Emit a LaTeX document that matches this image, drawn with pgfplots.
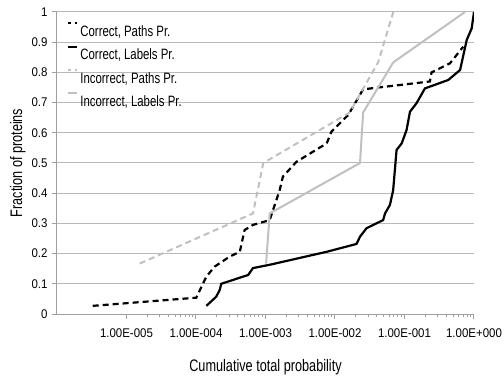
\documentclass[border=0pt]{standalone}
\usepackage{fontspec}
\setmainfont{Liberation Sans}[FakeStretch=0.91]
\newfontfamily\lfont{Liberation Sans}[FakeStretch=0.76]
\usepackage{pgfplots}
\pgfplotsset{compat=1.18}
\definecolor{lgray}{RGB}{192,192,192}
\definecolor{gridc}{RGB}{185,185,185}
\definecolor{axc}{RGB}{160,160,160}
\begin{document}
\begin{tikzpicture}
\path[use as bounding box] (-57bp,-63bp) rectangle (447bp,314bp);
\begin{axis}[
  scale only axis, width=417bp, height=302bp,
  xmode=log, xmin=1e-6, xmax=1, ymin=0, ymax=1,
  axis x line*=bottom, axis y line*=left,
  axis line style={axc, line width=1bp, -},
  xtick={1e-5,1e-4,1e-3,1e-2,1e-1,1},
  xticklabels={1.00E-005,1.00E-004,1.00E-003,1.00E-002,1.00E-001,1.00E+000},
  minor xtick={},
  ytick={0,0.1,...,1.01},
  yticklabels={0,0.1,0.2,0.3,0.4,0.5,0.6,0.7,0.8,0.9,1},
  ymajorgrids, major grid style={gridc, line width=1bp},
  tick style={axc, line width=1bp},
  major tick length=5bp, tick align=outside,
  xtick pos=bottom, ytick pos=left,
  tick label style={font=\fontsize{12.6bp}{15bp}\selectfont},
  xticklabel style={yshift=-6bp},
  yticklabel style={xshift=-1bp},
  xlabel={Cumulative total probability},
  ylabel={Fraction of proteins},
  label style={font=\lfont\fontsize{16.7bp}{19bp}\selectfont},
  xlabel style={yshift=-15bp},
  ylabel style={yshift=-1bp},
  legend cell align=left,
  legend style={draw=none, fill=none, at={(0.024,0.967)}, anchor=north west,
    font=\lfont\fontsize{15bp}{17bp}\selectfont, row sep=5.6bp, inner sep=0pt,
    /tikz/every even column/.append style={column sep=0pt}},
  legend image code/.code={\draw[#1, dash phase=3bp] (0bp,8.5bp) -- (9bp,8.5bp);},
]
\addplot[black, line width=2.2bp, dash pattern=on 6bp off 4bp] coordinates {
(3.27e-6,0.027) (1.01e-4,0.054) (1.41e-4,0.124) (1.86e-4,0.157) (3.05e-4,0.19)
(4.27e-4,0.206) (5.0e-4,0.278) (6.6e-4,0.295) (1.15e-3,0.311) (1.6e-3,0.41)
(1.78e-3,0.455) (2.79e-3,0.504) (7.6e-3,0.565) (8.9e-3,0.604) (1.55e-2,0.659)
(2.54e-2,0.744) (0.232,0.77) (0.245,0.80) (0.451,0.83) (0.70,0.885)
};
\addlegendentry{Correct, Paths Pr.}
\addplot[black, line width=2.2bp] coordinates {
(1.41e-4,0.027) (1.95e-4,0.057) (2.19e-4,0.079) (2.31e-4,0.10) (4.79e-4,0.124)
(5.62e-4,0.129) (6.6e-4,0.152) (1.15e-3,0.163) (7.6e-3,0.206) (2.04e-2,0.232)
(2.29e-2,0.256) (2.84e-2,0.284) (4.93e-2,0.311) (5.25e-2,0.333) (6.17e-2,0.361)
(6.87e-2,0.41) (7.69e-2,0.543) (9.12e-2,0.565) (0.107,0.609) (0.120,0.67)
(0.149,0.698) (0.197,0.747) (0.427,0.775) (0.631,0.808) (0.785,0.907)
(0.927,0.946) (1.0,1.0)
};
\addlegendentry{Correct, Labels Pr.}
\addplot[lgray, line width=2bp, dash pattern=on 6bp off 4bp] coordinates {
(1.55e-5,0.167) (6.6e-4,0.333) (9.3e-4,0.5) (1.62e-2,0.667) (4.17e-2,0.833) (6.9e-2,1.0)
};
\addlegendentry{Incorrect, Paths Pr.}
\addplot[lgray, line width=2bp] coordinates {
(1.02e-3,0.167) (1.15e-3,0.333) (2.29e-2,0.5) (2.54e-2,0.667) (6.87e-2,0.833) (0.741,1.0)
};
\addlegendentry{Incorrect, Labels Pr.}
\end{axis}
\end{tikzpicture}
\end{document}
